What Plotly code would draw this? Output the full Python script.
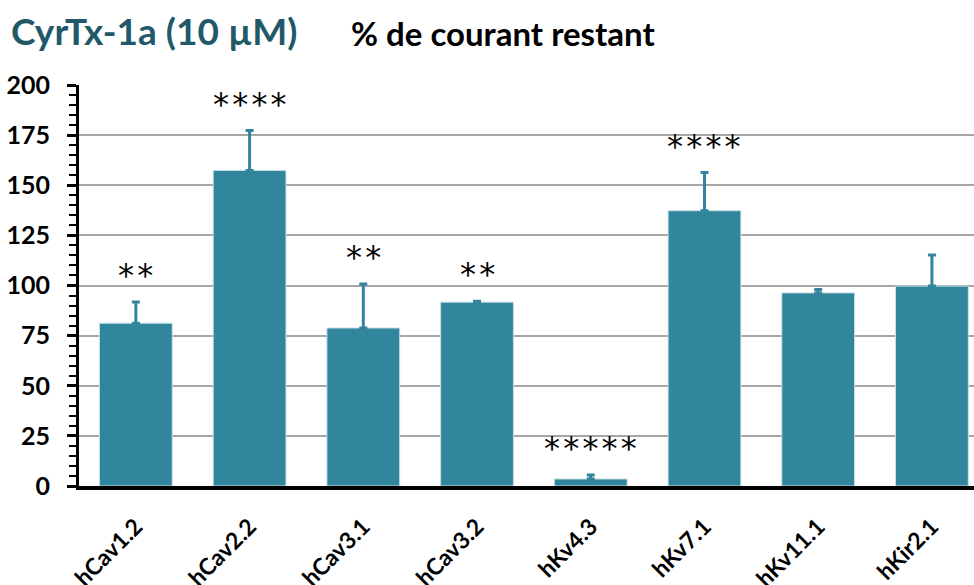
import plotly.graph_objects as go

# Remaining current (%) after CyrTx-1a (10 µM) for each channel
channels = ["hCav1.2", "hCav2.2", "hCav3.1", "hCav3.2", "hKv4.3", "hKv7.1", "hKv11.1", "hKir2.1"]
remaining = [81.2, 157.4, 78.8, 91.7, 3.5, 137.3, 96.3, 99.7]
sem = [10.6, 19.9, 21.9, 0.5, 2.0, 19.0, 1.7, 15.5]
significance = ["**", "****", "**", "**", "*****", "****", "", ""]

bar_color = "#31859C"
title_color = "#215968"
font_main = "Lato"

fig = go.Figure()
fig.add_trace(go.Bar(
    x=channels,
    y=remaining,
    marker=dict(color=bar_color, line=dict(color="#C6DFE6", width=1)),
    error_y=dict(type="data", symmetric=False, array=sem,
                 arrayminus=[0] * len(sem), color=bar_color,
                 thickness=3, width=4),
    width=0.64,
))

# Significance stars above each error bar
for ch, v, e, s in zip(channels, remaining, sem, significance):
    if s:
        fig.add_annotation(x=ch, y=v + e, text="\u200a".join(s), showarrow=False,
                           yanchor="middle", yshift=27,
                           font=dict(family="DejaVu Sans", size=32, color="black"))

fig.add_annotation(xref="paper", yref="paper", x=-0.078, y=1.135,
                   xanchor="left", yanchor="middle", showarrow=False,
                   text="<b>CyrTx-1a (10 µM)</b>",
                   font=dict(family=font_main, size=37, color=title_color))
fig.add_annotation(xref="paper", yref="paper", x=0.302, y=1.13,
                   xanchor="left", yanchor="middle", showarrow=False,
                   text="<b>% de courant restant</b>",
                   font=dict(family=font_main, size=33, color="black"))

fig.update_layout(
    width=974, height=585,
    margin=dict(l=79, r=0, t=85, b=99),
    plot_bgcolor="white", paper_bgcolor="white",
    showlegend=False,
    xaxis=dict(
        range=[-0.5, 7.37], automargin=False,
        showline=True, linecolor="black", linewidth=4,
        ticks="", tickangle=-45,
        ticklabelstandoff=14,
        tickfont=dict(family=font_main, size=23, color="black", weight="bold"),
        showgrid=False,
    ),
    yaxis=dict(
        range=[0, 200], tickvals=[0, 25, 50, 75, 100, 125, 150, 175, 200],
        automargin=False,
        showline=True, linecolor="black", linewidth=3,
        ticks="outside", ticklen=9, tickwidth=3, tickcolor="black",
        minor=dict(dtick=5, ticks="outside", ticklen=7, tickwidth=2,
                   tickcolor="black", showgrid=False),
        ticklabelstandoff=12,
        tickfont=dict(family=font_main, size=25, color="black", weight="bold"),
        showgrid=True, gridcolor="#A6A6A6", gridwidth=2,
        zeroline=False,
    ),
)

fig.write_html("out.html")
